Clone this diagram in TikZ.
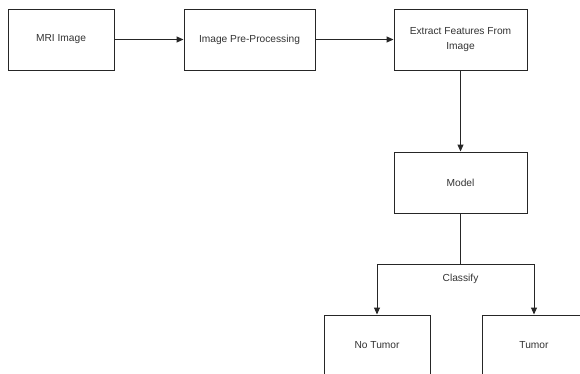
\documentclass[tikz,border=0pt]{standalone}
\usepackage{fontspec}
\setmainfont{Liberation Sans}
\usetikzlibrary{arrows.meta,shadows}
\begin{document}
\begin{tikzpicture}[x=1pt,y=-1pt,
  box/.style={draw=black!85, line width=1pt, fill=white, minimum height=61pt,
    inner sep=0pt, align=center, font=\fontsize{10.2}{15}\selectfont, text=black!80,
    drop shadow={shadow xshift=1.3pt,shadow yshift=-1.3pt,opacity=0.25}},
  conn/.style={draw=black!85, line width=1pt, -{Triangle[length=7pt,width=6pt]}},
  lbl/.style={font=\fontsize{10.2}{12}\selectfont, text=black!80, inner sep=1pt}]
\useasboundingbox (0,0) rectangle (580,373);
\clip (0,0) rectangle (580,373);
\node[box, minimum width=106pt] (mri) at (61,39.5) {MRI Image};
\node[box, minimum width=131pt] (pre) at (249.5,39.5) {Image Pre-Processing};
\node[box, minimum width=133pt] (ext) at (460.5,39.5) {Extract Features From\\Image};
\node[box, minimum width=133pt] (model) at (460.5,182.5) {Model};
\node[box, minimum width=106pt] (no) at (377,345.5) {No Tumor};
\node[box, minimum width=104pt] (yes) at (534,345.5) {Tumor};
\coordinate (split) at (460.5,264);
\node[lbl] (cls) at (460.5,279) {Classify};
\draw[conn] (mri) -- (pre);
\draw[conn] (pre) -- (ext);
\draw[conn] (ext) -- (model);
\draw[draw=black!85, line width=1pt] (model.south) -- (split);
\draw[conn] (split) -| (no.north);
\draw[conn] (split) -| (yes.north);
\end{tikzpicture}
\end{document}
